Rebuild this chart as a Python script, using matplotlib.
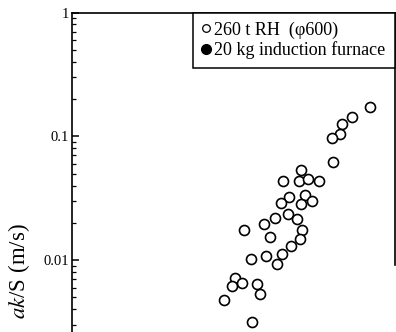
import matplotlib
matplotlib.use("Agg")
import matplotlib.pyplot as plt
from matplotlib.lines import Line2D
from matplotlib.ticker import FixedLocator, LogLocator, NullFormatter

OUT_PNG = "out.png"

# 260 t RH points (x has no visible scale in the crop, arbitrary units 0-10)
RH_X = [9.24, 8.67, 8.36, 8.31, 8.05, 8.08, 7.10, 6.55, 7.04, 7.33, 7.66, 6.74,
        6.49, 7.23, 7.09, 7.43, 6.69, 6.97, 6.29, 5.96, 5.32, 7.13, 6.14, 7.07,
        6.80, 6.52, 6.01, 5.55, 6.37, 5.05, 4.97, 5.28, 5.73, 5.84, 4.72, 5.59]
RH_Y = [0.1725, 0.144, 0.1257, 0.1038, 0.0963, 0.0620, 0.0534, 0.0435, 0.0438,
        0.0449, 0.0433, 0.0323, 0.0291, 0.0336, 0.0284, 0.0300, 0.0234, 0.0216,
        0.0218, 0.0195, 0.0174, 0.0174, 0.01537, 0.01472, 0.0130, 0.0112,
        0.01079, 0.01026, 0.00935, 0.00717, 0.00618, 0.0065, 0.00641, 0.00532,
        0.00476, 0.00316]

Y_TICKS = [1, 0.1, 0.01]
Y_TICK_LABELS = ["1", "0.1", "0.01"]
LEGEND_LABELS = ["260 t RH  (φ600)", "20 kg induction furnace"]

SERIF = ["Liberation Serif", "DejaVu Serif"]


def main():
    plt.rcParams["font.family"] = SERIF
    plt.rcParams["mathtext.fontset"] = "stix"
    fig = plt.figure(figsize=(3.96, 3.32), dpi=100)
    ax = fig.add_axes([72 / 396, 0.0, 322.5 / 396, 1 - 12.5 / 332])

    ax.plot(RH_X, RH_Y, "o", ms=7.2, mfc="white", mec="black", mew=1.2, ls="none")

    ax.set_yscale("log")
    ax.set_xlim(0, 10)
    ax.set_ylim(0.002624, 1)

    ax.yaxis.set_major_locator(FixedLocator(Y_TICKS))
    ax.set_yticklabels(Y_TICK_LABELS, fontsize=10.5)
    ax.yaxis.set_minor_locator(LogLocator(base=10, subs=range(2, 10)))
    ax.yaxis.set_minor_formatter(NullFormatter())
    ax.tick_params(axis="y", which="major", direction="in", length=5, width=1.1, pad=2)
    ax.tick_params(axis="y", which="minor", direction="in", length=3, width=0.9)
    ax.set_xticks([])

    ax.spines["bottom"].set_visible(False)
    for s in ("left", "top", "right"):
        ax.spines[s].set_linewidth(1.2)
    ax.spines["right"].set_bounds(0.0091, 1)

    ax.set_ylabel("$ak$/S (m/s)", fontsize=16.5)
    ax.yaxis.set_label_coords(-0.124, 0.19)

    handles = [
        Line2D([], [], marker="o", ls="none", ms=5.5, mfc="white", mec="black", mew=0.9),
        Line2D([], [], marker="o", ls="none", ms=7, mfc="black", mec="black"),
    ]
    leg = ax.legend(handles, LEGEND_LABELS, loc="upper right", borderaxespad=0,
                    fancybox=False, edgecolor="black", framealpha=1,
                    handlelength=0.5, handletextpad=0.2, borderpad=0.5,
                    labelspacing=0.15, prop={"family": SERIF, "size": 13})
    leg.get_frame().set_linewidth(1.1)

    fig.savefig(OUT_PNG, dpi=100)
    plt.close(fig)


if __name__ == "__main__":
    main()
